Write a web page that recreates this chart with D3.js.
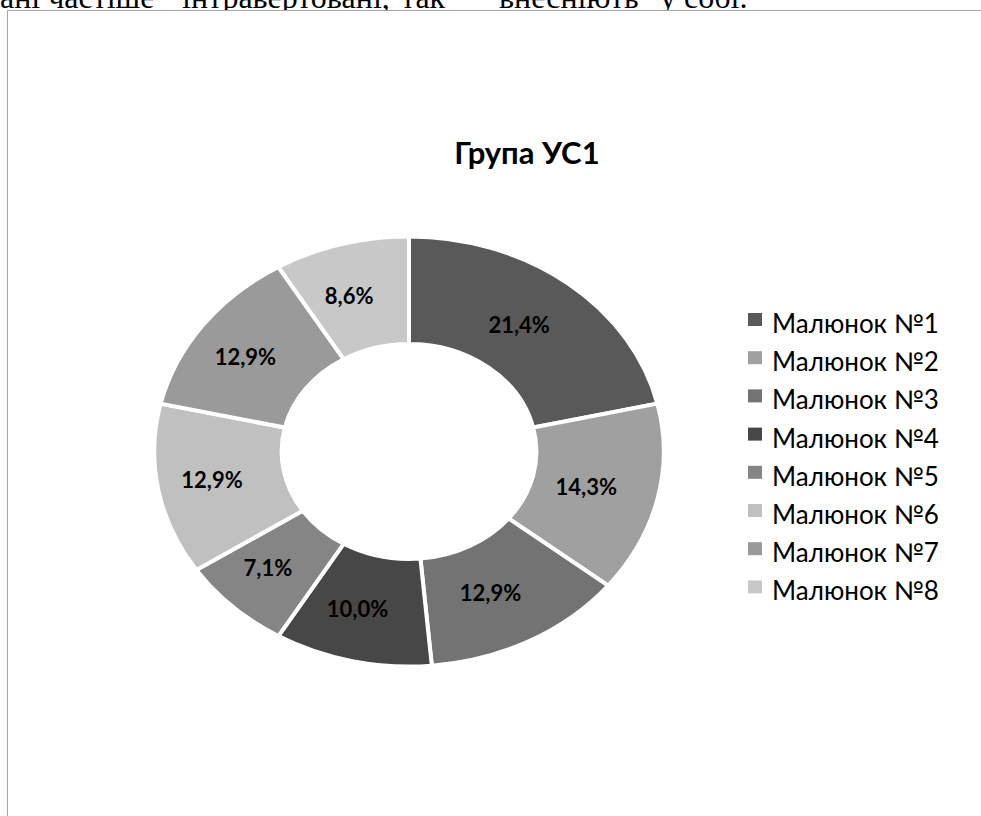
<!DOCTYPE html>
<html>
<head>
<meta charset="utf-8">
<script src="https://cdn.jsdelivr.net/npm/d3@7"></script>
<style>
  html, body { margin: 0; padding: 0; background: #fff; overflow: hidden; }
  svg { display: block; }
</style>
</head>
<body>
<div id="chart"></div>
<script>
// Data (counts out of 70 -> percentages shown on the slices)
const categories = ['Малюнок №1', 'Малюнок №2', 'Малюнок №3', 'Малюнок №4',
                    'Малюнок №5', 'Малюнок №6', 'Малюнок №7', 'Малюнок №8'];
const counts = [15, 10, 9, 7, 5, 9, 9, 6];
const greys = ['#595959', '#a0a0a0', '#737373', '#474747',
               '#858585', '#c0c0c0', '#9a9a9a', '#c8c8c8'];
const title = 'Група УС1';
// words of the document line that peeks out above the chart
const pageWords = ['ані частіше', 'інтравертовані,', 'так', 'внесніють', 'у собі.'];
const pageWordX = [0, 182, 401, 499, 660];

const W = 981, H = 816;
const svg = d3.select('#chart').append('svg')
    .attr('width', W)
    .attr('height', H);

// Bit of the document text above the chart, cut off by the page edge
svg.selectAll('.page-text')
    .data(pageWords)
    .enter()
    .append('text')
    .attr('class', 'page-text')
    .attr('x', (d, i) => pageWordX[i])
    .attr('y', 8)
    .style('font-family', '"Liberation Serif", "Times New Roman", serif')
    .style('font-size', '32px')
    .style('fill', '#000')
    .text(d => d);

// Chart area (opaque, sits over the text descenders) + frame
svg.append('rect')
    .attr('x', 7.5).attr('y', 10.5)
    .attr('width', W).attr('height', H)
    .attr('fill', '#fff')
    .attr('stroke', '#a6a6a6')
    .attr('stroke-width', 1);

// Title
svg.append('text')
    .attr('x', 527).attr('y', 164)
    .attr('text-anchor', 'middle')
    .style('font-family', 'Lato, sans-serif')
    .style('font-weight', '700')
    .style('font-size', '31px')
    .style('fill', '#000')
    .text(title);

// Donut (circle squashed into an ellipse, as in the original)
const cx = 409, cy = 451.5;
const ry = 215, sx = 253 / 213.5;
const total = d3.sum(counts);

const pie = d3.pie().sort(null).value(d => d);
const arcs = pie(counts);
const arc = d3.arc().innerRadius(ry * 0.5).outerRadius(ry);
const labelArc = d3.arc().innerRadius(ry * 0.75).outerRadius(ry * 0.75);

const g = svg.append('g')
    .attr('transform', `translate(${cx},${cy}) scale(${sx},1)`);

g.selectAll('path')
    .data(arcs)
    .enter()
    .append('path')
    .attr('d', arc)
    .attr('fill', (d, i) => greys[i])
    .attr('stroke', '#fff')
    .attr('stroke-width', 4)
    .attr('vector-effect', 'non-scaling-stroke');

const fmt = v => (v * 100).toFixed(1).replace('.', ',') + '%';

svg.selectAll('.slice-label')
    .data(arcs)
    .enter()
    .append('text')
    .attr('class', 'slice-label')
    .attr('x', d => cx + labelArc.centroid(d)[0] * sx - 9)
    .attr('y', d => cy + labelArc.centroid(d)[1])
    .attr('dy', '0.36em')
    .attr('text-anchor', 'middle')
    .style('font-family', 'Lato, sans-serif')
    .style('font-weight', '700')
    .style('font-size', '22px')
    .style('fill', '#000')
    .text(d => fmt(d.value / total));

// Legend
const legend = svg.append('g')
    .attr('transform', 'translate(748, 313)');

categories.forEach((name, i) => {
    const row = legend.append('g')
        .attr('transform', `translate(0, ${i * 38.2})`);
    row.append('rect')
        .attr('width', 14)
        .attr('height', 13)
        .attr('fill', greys[i]);
    row.append('text')
        .attr('x', 24)
        .attr('y', 20)
        .style('font-family', 'Lato, sans-serif')
        .style('font-size', '26px')
        .style('fill', '#000')
        .text(name);
});
</script>
</body>
</html>
